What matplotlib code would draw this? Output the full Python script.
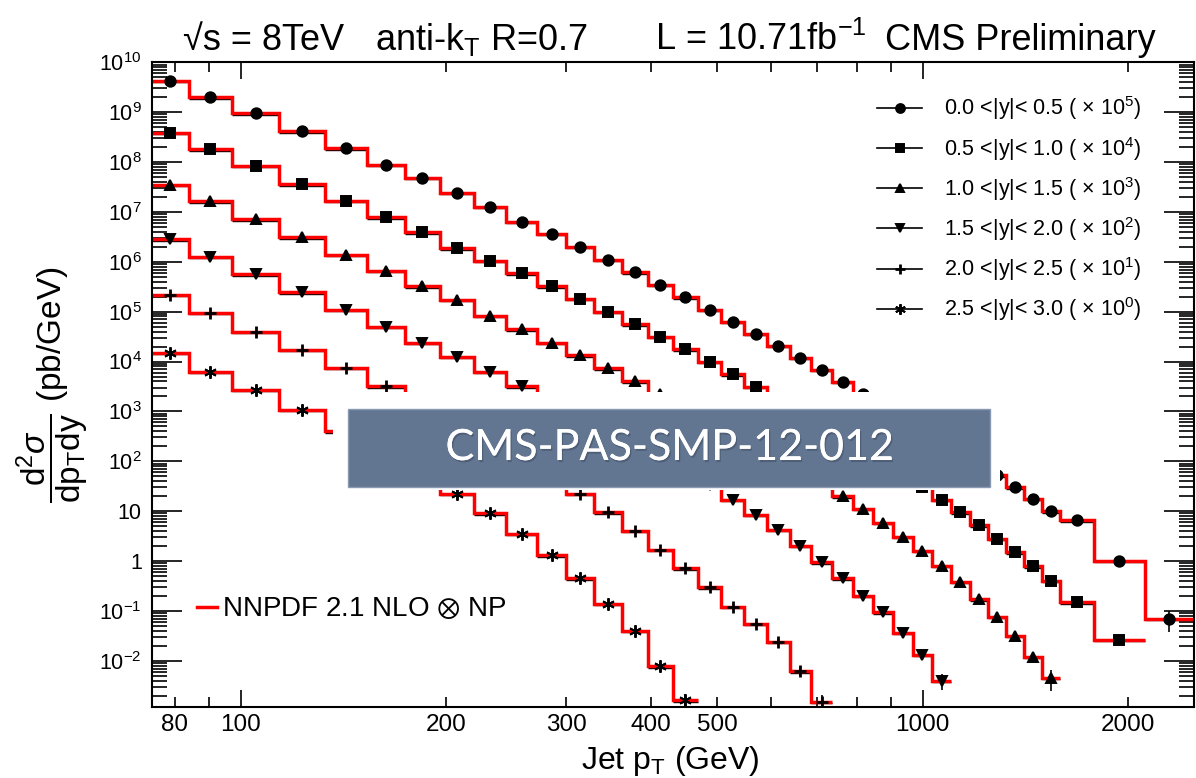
import matplotlib
matplotlib.use('Agg')
import matplotlib.pyplot as plt
import matplotlib.patches as patches
import matplotlib.patheffects as pe
import matplotlib.transforms as mtransforms
from matplotlib.lines import Line2D
from matplotlib.ticker import FixedLocator, FuncFormatter, LogLocator, NullFormatter
import numpy as np

plt.rcParams['font.family'] = ['Liberation Sans', 'DejaVu Sans']
plt.rcParams['mathtext.fontset'] = 'custom'
plt.rcParams['mathtext.rm'] = 'Liberation Sans'
plt.rcParams['mathtext.it'] = 'Liberation Sans:italic'
plt.rcParams['mathtext.bf'] = 'Liberation Sans:bold'
plt.rcParams['mathtext.sf'] = 'Liberation Sans'

# jet pT bin edges (GeV), last bins merged
pt_edges = [74, 84, 97, 114, 133, 153, 174, 196, 220, 245, 272, 300, 330, 362, 395,
            430, 468, 507, 548, 592, 638, 686, 737, 790, 846, 905, 967, 1032, 1101,
            1172, 1248, 1327, 1410, 1497, 1588, 1784, 2116, 2500]

# d2sigma/dpT dy (pb/GeV), already multiplied by the legend factor
xs_y00 = [4.3e9, 2.0e9, 9.5e8, 4.1e8, 1.9e8, 8.7e7, 4.8e7, 2.4e7, 1.28e7, 6.4e6,
          3.6e6, 2.0e6, 1.1e6, 6.2e5, 3.5e5, 1.95e5, 1.1e5, 6.3e4, 3.6e4, 2.05e4,
          1.18e4, 6.8e3, 3.9e3, 2.25e3, 1.3e3, 7.5e2, 4.4e2, 2.55e2, 1.5e2, 88,
          52, 30, 17.5, 10.0, 6.5, 1.0, 0.07]
xs_y05 = [3.9e8, 1.8e8, 8.3e7, 3.6e7, 1.66e7, 7.8e6, 3.9e6, 1.87e6, 1.04e6, 5.9e5,
          3.2e5, 1.8e5, 1.0e5, 5.6e4, 3.1e4, 1.75e4, 9.8e3, 5.5e3, 3.1e3, 1.75e3,
          9.8e2, 5.5e2, 3.1e2, 1.75e2, 98, 55, 31, 17, 9.5, 5.2,
          2.8, 1.5, 0.78, 0.4, 0.15, 0.026]
xs_y10 = [3.5e7, 1.63e7, 7.1e6, 3.1e6, 1.38e6, 6.6e5, 3.2e5, 1.73e5, 8.3e4, 4.4e4,
          2.4e4, 1.33e4, 7.3e3, 4.0e3, 2.2e3, 1.15e3, 6.4e2, 3.6e2, 2.0e2, 1.15e2,
          64, 36, 20, 11, 5.9, 3.1, 1.6, 0.8, 0.38, 0.17,
          0.077, 0.032, 0.012, 0.0046]
xs_y15 = [2.8e6, 1.26e6, 5.6e5, 2.45e5, 1.1e5, 5.0e4, 2.4e4, 1.26e4, 6.3e3, 3.2e3,
          1.7e3, 9.2e2, 4.9e2, 2.6e2, 1.35e2, 68, 34, 17, 8.5, 4.2,
          2.0, 0.95, 0.45, 0.2, 0.093, 0.036, 0.013, 0.0040]
xs_y20 = [2.2e5, 9.4e4, 4.0e4, 1.7e4, 7.4e3, 3.2e3, 1.4e3, 6.2e2, 2.7e2, 1.2e2,
          52, 22, 9.5, 4.0, 1.7, 0.72, 0.3, 0.12, 0.055, 0.024,
          0.0062, 0.0015]
xs_y25 = [1.5e4, 6.3e3, 2.7e3, 1.07e3, 4.0e2, 1.5e2, 58, 22, 9.0, 3.5,
          1.3, 0.45, 0.14, 0.04, 0.0078, 0.0016]

# relative uncertainties of the last few points
tail_err = [[0.08, 0.12, 0.18, 0.45],
            [0.06, 0.10, 0.15, 0.25],
            [0.10, 0.15, 0.25, 0.45],
            [0.08, 0.12, 0.20, 0.35],
            [0.08, 0.12, 0.20, 0.35],
            [0.08, 0.12, 0.20, 0.35]]

series = [xs_y00, xs_y05, xs_y10, xs_y15, xs_y20, xs_y25]
y_bins = ['0.0', '0.5', '1.0', '1.5', '2.0', '2.5', '3.0']
factors = [5, 4, 3, 2, 1, 0]
markers = ['o', 's', '^', 'v', '+', (6, 2, 0)]
msizes = [7.5, 7, 7.5, 7.5, 9, 9]

W, H = 1196, 778
fig = plt.figure(figsize=(W / 100, H / 100), dpi=100)
ax = fig.add_axes([151.5 / W, 1 - 706.7 / H, (1194 - 151.5) / W, (706.7 - 62.3) / H])
ax.set_xscale('log')
ax.set_yscale('log')
ax.set_xlim(74, 2500)
ax.set_ylim(1.2e-3, 1e10)

# data bars sit a pixel below the theory line
bar_tr = mtransforms.offset_copy(ax.transData, fig=fig, y=-1.4, units='dots')

edges = np.array(pt_edges, dtype=float)
handles = []
for i, vals in enumerate(series):
    vals = np.array(vals)
    n = len(vals)
    lo, hi = edges[:n], edges[1:n + 1]
    centers = np.sqrt(lo * hi)
    ax.stairs(vals, edges[:n + 1], baseline=None, color='#ff0000', lw=2.5, zorder=2)
    ax.hlines(vals, lo, hi, colors='k', lw=1.0, zorder=1.5, transform=bar_tr)
    rel = np.zeros(n)
    rel[-4:] = tail_err[i]
    mew = 2.0 if markers[i] == '+' else 1.4
    ax.errorbar(centers, vals, yerr=vals * rel, fmt='none', ecolor='k', elinewidth=1.2, zorder=3)
    ax.plot(centers, vals, ls='none', marker=markers[i], ms=msizes[i], color='k',
            mew=mew, zorder=4)
    label = '%s <|y|< %s ( $\\times$ 10$^{%d}$)' % (y_bins[i], y_bins[i + 1], factors[i])
    handles.append(Line2D([0], [0], color='k', lw=1.2, marker=markers[i],
                          ms=msizes[i] * 0.85, mew=mew, label=label))

# axes styling
for s in ax.spines.values():
    s.set_linewidth(1.5)
ax.tick_params(which='both', direction='in', top=True, right=True, width=1.2, colors='k')
ax.yaxis.set_tick_params(which='major', length=21.6, pad=7, labelsize=15.5)
ax.yaxis.set_tick_params(which='minor', length=10.8)
ax.xaxis.set_tick_params(which='major', length=12, pad=5, labelsize=17.5)
ax.xaxis.set_tick_params(which='minor', length=7, pad=5, labelsize=17.5)

ax.yaxis.set_major_locator(LogLocator(base=10, numticks=30))
ax.yaxis.set_minor_locator(LogLocator(base=10, subs=np.arange(2, 10), numticks=30))
ax.yaxis.set_minor_formatter(NullFormatter())


def ylab(v, pos):
    e = int(round(np.log10(v)))
    if e == 0:
        return '1'
    if e == 1:
        return '10'
    return '$10^{%d}$' % e


ax.yaxis.set_major_formatter(FuncFormatter(ylab))

x_major = [100, 1000]
x_minor = [80, 90, 200, 300, 400, 500, 600, 700, 800, 900, 2000]
x_minor_labelled = [80, 200, 300, 400, 500, 2000]
ax.xaxis.set_major_locator(FixedLocator(x_major))
ax.xaxis.set_minor_locator(FixedLocator(x_minor))
ax.xaxis.set_major_formatter(FuncFormatter(lambda v, p: '%d' % v))
ax.xaxis.set_minor_formatter(FuncFormatter(
    lambda v, p: '%d' % v if int(round(v)) in x_minor_labelled else ''))

# legends
leg = ax.legend(handles=handles, loc='upper left', bbox_to_anchor=(0.696, 0.950),
                frameon=False, fontsize=15.5, handlelength=2.1, handletextpad=1.0,
                labelspacing=0.57, borderpad=0, borderaxespad=0)
ax.add_artist(leg)
th = Line2D([0], [0], color='#ff0000', lw=2.5, label='NNPDF 2.1 NLO $\u2297$ NP')
ax.legend(handles=[th], loc='center left', bbox_to_anchor=(0.044, 0.151), frameon=False,
          handlelength=0.7, handletextpad=0.2, borderpad=0, borderaxespad=0,
          prop={'family': ['Liberation Sans', 'DejaVu Sans'], 'size': 20})

# axis titles
fig.text(670 / W, 1 - 769 / H, 'Jet p$_{\\mathrm{T}}$ (GeV)', fontsize=23,
         ha='center', va='baseline')
fig.text(52 / W, 1 - 385 / H,
         '$\\dfrac{\\mathrm{d^{2}}\\sigma}{\\mathrm{dp_{T}dy}}$ (pb/GeV)',
         fontsize=24, rotation=90, ha='center', va='center')

# header line
hy = 1 - 50 / H
fig.text(183 / W, hy, '\u221as = 8TeV', fontsize=26, va='baseline')
fig.text(375 / W, hy, 'anti-k$_{\\mathrm{T}}$ R=0.7', fontsize=26, va='baseline')
fig.text(655 / W, hy, 'L = 10.71fb$^{\\mathrm{-1}}$', fontsize=26, va='baseline')
fig.text(885 / W, hy, 'CMS Preliminary', fontsize=26, va='baseline')

# publication tag banner
fig.patches.append(patches.Rectangle((333 / W, 1 - 490 / H), (1000 - 333) / W, (490 - 392) / H,
                                     transform=fig.transFigure, facecolor='white',
                                     edgecolor='none', zorder=5))
fig.patches.append(patches.Rectangle((348 / W, 1 - 487 / H), (990 - 348) / W, (487 - 409) / H,
                                     transform=fig.transFigure, facecolor='#627692',
                                     edgecolor='#8a9ab2', lw=1.0, zorder=6))
tag = fig.text(669 / W, 1 - 448 / H, 'CMS-PAS-SMP-12-012', fontsize=31, color='white',
               family='Lato', ha='center', va='center', zorder=7)
tag.set_path_effects([pe.withSimplePatchShadow(offset=(1, -1.5), shadow_rgbFace='#2b3545',
                                               alpha=0.35), pe.Normal()])

fig.savefig('out.png', dpi=100)
